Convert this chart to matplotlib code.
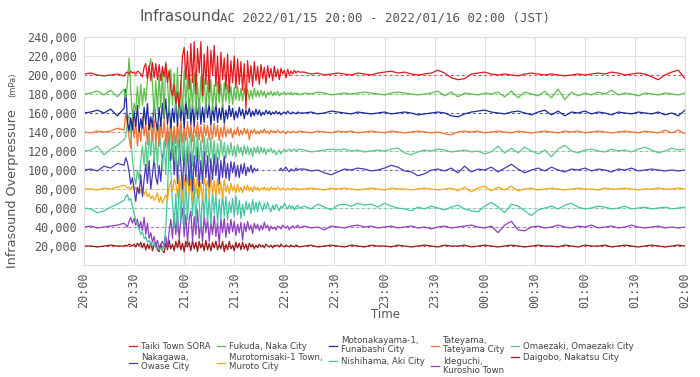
import numpy as np
import matplotlib
matplotlib.use('Agg')
import matplotlib.pyplot as plt

nan = np.nan

# minutes after 20:00 JST (denser sampling during the event)
minutes = np.r_[0:25:4, 25:130, 132:361:4]

time_labels = ['20:00', '20:30', '21:00', '21:30', '22:00', '22:30', '23:00',
               '23:30', '00:00', '00:30', '01:00', '01:30', '02:00']

# deviations from each station's offset, in 1,000 mPa
taiki = [1, 2, 0, -1, 0, 1, -1,
         2, 3, 1, 4, 2, 3, 1, 4, 3, 1,
         -2, 8, 12, -4, 10, -6, 13, -3, 12, -5,
         11, -6, 9, -2, 12, -8, 5, -15, -22, -10,
         -30, -18, -35, -12, 20, 29, -5, 25, -15, 33,
         -8, 35, -20, 28, 2, 35, -22, 22, -10, 30,
         -18, 26, 0, 31, -12, 20, -20, 24, -5, 18,
         -15, 22, -19, 15, -8, 20, -14, 17, -10, 14,
         -16, 12, -36, 15, -8, 10, -12, 14, -6, 9,
         -10, 11, -4, 8, -9, 10, -3, 7, -6, 9,
         -2, 6, -5, 7, 1, 5, -3, 6, 0, 4,
         1, 5, 2, 4, 3,
         3, 1, 2, 0, 1, 2, 1, 0, 2, 1,
         0, 2, 3, 4, 2, 3, 1, 0, 1, 2,
         5, 2, -3, -5, -4, 1, 2, 3, 1, 0,
         1, 0, -1, 1, 2, 1, 0, 1, 0, -1,
         0, 1, 0, 1, 2, 1, 3, 2, 0, 1,
         2, 1, -2, -5, 0, 3, 5, -4]

fukuda = [0, 1, 3, -1, 4, -3, 5,
          -4, 10, 38, 5, -25, -10, -18, 8, -15, 10,
          -12, 6, -8, 15, 28, 37, 10, -22, 14, -18,
          20, -15, 25, -24, 34, 15, -20, 26, -12, 22,
          -20, 28, -25, 14, -18, 24, -10, 20, -26, 16,
          -15, 22, -20, 12, -22, 18, -8, 16, -18, 14,
          -12, 15, -17, 10, -13, 13, -9, 11, -14, 12,
          -8, 10, -10, 8, -11, 7, -6, 8, -7, 6,
          -7, 6, -4, 5, -6, 4, -5, 6, -3, 4,
          -3, 4, -2, 3, -4, 2, -1, 3, -2, 2,
          -1, 3, -2, 1, 0, 2, -1, 1, 0, 2,
          -1, 1, 0, 1, -1,
          1, 0, 2, 1, -1, 0, 1, 0, 1, 2,
          1, 0, -1, 1, 2, 1, 0, -1, 0, 1,
          3, -2, 2, -3, 1, 0, -1, 1, 0, 2,
          -3, 3, -4, 2, 0, -2, 3, -4, 5, -6,
          2, -2, 1, -1, 2, 0, 4, -1, 1, 0,
          -2, 1, 0, -1, 1, 0, -1, 1]

motonakayama = [0, 1, 3, 0, 4, -3, 5,
                25, -8, -19, -5, -18, 2, -14, 8, -20, -6,
                -16, 6, -12, 10, -18, -4, -15, 12, -8, -18,
                6, -14, 10, -6, 15, -12, 8, -16, 5, -10,
                14, -14, 16, -8, 11, -16, 13, -6, 15, -12,
                9, -14, 12, -7, 15, -12, 6, -10, 13, -5,
                10, -13, 7, -8, 11, -10, 5, -7, 9, -11,
                3, -6, 8, -4, 5, -7, 2, -5, 6, -3,
                4, -6, 3, -2, 5, -4, 2, -3, 4, -2,
                3, -3, 1, -2, 3, -1, 2, -2, 1, -1,
                2, -1, 1, -2, 0, 1, -1, 2, 0, -1,
                1, 0, -1, 1, 0,
                0, 1, -1, 0, 2, 1, 0, -1, 1, 0,
                -1, 0, 1, -1, 0, 1, 0, -2, -1, 0,
                1, 0, -3, -4, -1, 1, 2, 3, 1, 0,
                -1, 1, 2, 0, -2, 1, 3, -2, 2, -3,
                1, 0, 2, -1, 1, 0, -2, 1, 0, -1,
                1, 0, -1, 1, -2, 0, -3, 3]

tateyama = [0, -1, 1, 0, 1, 4, 2,
            20, 8, -6, -17, 14, -6, 12, -15, 8, -10,
            16, -4, 10, -13, 15, 5, -9, 13, -11, 8,
            -15, 10, -6, 13, -13, 7, -9, 12, -10, 6,
            -12, 10, -7, 13, -11, 5, -9, 11, -6, 8,
            -10, 7, -5, 11, -8, 6, -11, 8, -4, 7,
            -8, 6, -7, 9, -5, 7, -9, 5, -6, 8,
            -5, 3, -2, 4, -6, 2, -3, 5, -4, 2,
            -3, 4, -2, 3, -8, 2, -1, 3, -2, 1,
            -2, 2, -1, 3, -1, 1, -2, 2, 0, 1,
            -1, 2, 0, -1, 1, 0, -2, 1, 0, -1,
            1, 0, -1, 0, 1,
            0, -1, 1, 0, -1, 1, 0, 1, -1, 0,
            1, 0, -1, 1, 0, -1, 0, 1, 0, -1,
            0, -2, -3, 0, 1, 0, 1, -1, 0, 1,
            0, -1, 1, 0, -1, 0, 1, 0, -1, 1,
            0, 1, -1, 0, 1, 0, -1, 0, 1, 0,
            -1, 1, 0, -1, 2, -1, 2, -2]

omaezaki = [0, 1, 5, -4, 2, 6, 12,
            15, 30, 38, 20, -10, -25, -35, -20, -30, -10,
            5, -15, 10, -20, 20, -5, 25, -12, 15, -18,
            28, 5, -20, 12, -25, 18, -10, 30, -8, 20,
            -20, 22, -16, 28, -10, 18, -24, 14, -12, 24,
            -16, 16, -9, 20, -14, 11, -18, 15, -6, 13,
            -12, 14, -8, 11, -13, 8, -9, 12, -5, 9,
            -8, 6, -4, 9, -5, 5, -6, 7, -2, 4,
            -5, 6, -3, 5, -4, 3, -6, 4, -2, 5,
            -3, 4, -2, 3, -4, 2, -1, 3, -2, 1,
            -4, -2, 1, -3, 0, 2, -1, 1, 2, 0,
            1, 2, 0, 1, 2,
            1, -1, 0, 1, 2, 1, 2, 0, 1, -1,
            0, 1, 0, 2, 3, -2, -4, -1, 1, 0,
            2, 1, -1, 0, 1, -1, 0, -3, -1, 5,
            -2, 3, -2, 4, 0, -3, 1, -6, 2, 6,
            0, -2, 1, 2, 0, -1, 2, 0, 1, -1,
            2, 4, 1, -2, 0, 3, 1, 2]

nakagawa = [0, 1, -1, 4, 2, 7, 5,
            13, 8, -2, -15, -8, -20, -33, -18, -25, -5,
            -28, -10, 6, -14, 10, -20, -5, 12, -8, -15,
            5, -12, 15, 20, 30, 41, 25, 10, 35, -5,
            25, -14, 32, 6, -20, 22, -12, 26, -16, 18,
            -22, 15, -7, 24, -18, 10, -14, 20, -8, 15,
            -18, 12, -10, 17, -6, 13, -15, 10, -8, 15,
            -9, 7, -11, 9, -3, 8, -7, 5, -8, 6,
            -4, 7, -6, 3, -2, 5, -3, 2, -1, 1,
            nan, nan, nan, nan, nan, nan, nan, nan, nan, nan,
            nan, nan, 0, 2, -1, 1, 3, 0, -2, 1,
            0, -1, 2, 0, 1,
            1, -1, 0, -3, -5, -2, 1, 0, 2, 1,
            -1, 0, 2, 5, 3, -1, -2, -6, -4, 0,
            1, -1, 2, -3, 4, -2, 1, 0, 3, -2,
            2, 6, 1, -3, 0, 2, -1, 3, 0, -2,
            1, 0, 2, -1, 1, 0, -2, 1, 0, 2,
            -1, 0, 1, 0, -1, 0, -1, 0]

muroto = [0, 0, -1, 1, 0, 2, 4,
          3, 1, 2, -1, 3, 0, 2, -3, 1, -4,
          0, -6, -2, -8, -5, -10, -7, -12, -9, -4,
          -14, -8, -15, -10, -6, -12, 2, 8, -2, 10,
          6, -8, 14, 3, -12, 12, -2, 14, -8, 10,
          -13, 11, -5, 15, -9, 7, -12, 12, 1, 9,
          -10, 13, -4, 9, -8, 11, -6, 7, -9, 10,
          -3, 4, -5, 6, -2, 3, -4, 5, -3, 2,
          -4, 3, -1, 4, -2, 2, -3, 3, -1, 2,
          -2, 1, 0, 2, -1, 1, -2, 2, 0, 1,
          -1, 2, 0, -1, 1, 0, -1, 1, 0, -1,
          1, 0, 1, -1, 0,
          0, 1, 0, -1, 1, 0, 1, 0, -1, 0,
          1, 0, -1, 1, 0, 0, -1, 0, 1, 0,
          -1, 0, 1, -2, 2, -3, 1, 3, -2, 2,
          -1, 3, -2, 0, 1, -1, 0, 1, 0, -1,
          0, 1, 0, 0, -1, 1, 0, 0, 1, 0,
          -1, 0, 0, 1, 0, 0, 1, 0]

nishihama = [0, -1, -5, -3, 1, 4, 8,
             12, 14, 8, 10, 2, -6, -12, -18, -22, -28,
             -25, -32, -30, -36, -34, -38, -40, -36, -42, -41,
             -44, -42, -45, -38, -20, 15, 70, 40, 5, -20,
             15, -25, 35, -15, 28, -20, 32, -12, 20, 38,
             -8, 26, -18, 20, 6, -22, 16, -10, 24, -15,
             12, -18, 18, -6, 14, -16, 9, -12, 16, -9,
             12, -13, 7, -5, 10, -9, 13, -7, 8, -11,
             4, -8, 7, -2, 5, -6, 9, -3, 6, -4,
             7, 2, -3, 5, -1, 6, 0, -4, 3, -2,
             4, 1, -3, 2, 0, 5, 2, -1, 3, 0,
             2, -2, 1, 3, 0,
             2, -1, 4, 1, -2, 3, 4, 2, 5, 3,
             4, 1, 5, 2, 0, -1, -3, 1, -1, 2,
             0, -2, 1, 3, -1, -3, -4, 2, 6, 1,
             -5, 4, 2, -3, -8, -2, 0, 2, -1, 3,
             5, 1, -1, 0, 2, 1, -1, 0, 2, -1,
             0, 1, -1, 0, 1, -1, 0, 1]

ideguchi = [0, 1, -1, 0, 1, 2, 4,
            2, 0, 6, 10, 4, 9, 2, 8, -2, 6,
            -4, 10, -8, 4, -12, -6, -16, -10, -20, -14,
            -22, -18, -15, -20, -10, -22, -5, 8, -12, 15,
            -8, 15, -13, 7, 20, -10, 13, -17, 8, 17,
            -15, 11, -8, 18, -12, 6, -16, 13, -6, 9,
            -15, 6, -8, 12, -10, 5, -18, 8, -6, 9,
            -11, 4, -7, 8, -5, 6, -9, 3, -6, 5,
            -14, 4, -5, 6, -3, 2, -7, 4, -2, 3,
            -4, 2, -3, 5, -1, 2, -4, 1, -2, 0,
            -3, 1, 0, -2, 2, 0, -1, 1, -3, 0,
            1, -1, 0, 2, -1,
            1, -1, 0, -3, 1, 0, -1, 1, 2, 0,
            1, -1, 0, 1, -1, 0, 1, -1, 0, -2,
            0, 1, -1, 0, 1, 2, 0, -1, 1, -6,
            2, 6, -3, -4, 0, 1, -1, 0, 2, 0,
            -1, 1, 0, 2, -1, 0, 1, -1, 0, 2,
            0, -1, 0, 1, -1, 0, -1, 0]

daigobo = [0, 0, -1, 0, 1, 0, 0,
           1, 0, 2, 1, 0, 2, -1, 3, 0, 4,
           -2, 3, -4, 2, -3, 4, -5, 1, 3, -4,
           -6, 2, -5, -7, 3, -4, 6, -3, 2, -5,
           5, -2, 7, -4, 3, -6, 5, -1, 4, -5,
           6, -3, 4, -6, 5, -2, 3, -5, 6, -4,
           3, -5, 4, -2, 5, -4, 2, -3, 5, -6,
           2, -4, 5, -3, 1, -5, 4, -2, 3, -4,
           4, -3, 2, -5, 3, -1, 2, -3, 1, -2,
           2, -1, 1, -2, 2, 0, -1, 1, -2, 1,
           0, 1, -1, 2, 0, -1, 1, 0, -1, 1,
           0, -1, 1, 0, -1,
           0, 1, -1, 0, 1, 0, -1, 1, 0, -1,
           1, 0, 0, -1, 1, 0, -1, 0, 1, 0,
           -1, 1, 0, 0, 1, -1, 0, 1, 0, -1,
           0, 1, 0, -1, 0, 1, 0, 0, -1, 1,
           0, -1, 1, 0, 0, 1, -1, 0, 1, 0,
           -1, 0, 1, 0, -1, 0, 1, 0]

stations = ['Taiki Town SORA', 'Fukuda, Naka City', 'Motonakayama-1,\nFunabashi City',
            'Tateyama,\nTateyama City', 'Omaezaki, Omaezaki City', 'Nakagawa,\nOwase City',
            'Murotomisaki-1 Town,\nMuroto City', 'Nishihama, Aki City',
            'Ideguchi,\nKuroshio Town', 'Daigobo, Nakatsu City']
offsets = [200000, 180000, 160000, 140000, 120000, 100000, 80000, 60000, 40000, 20000]
series = [taiki, fukuda, motonakayama, tateyama, omaezaki, nakagawa,
          muroto, nishihama, ideguchi, daigobo]
colors = ['#e0191e', '#5cbf4a', '#1c2a99', '#f07234', '#5cc68a', '#4b3ab5',
          '#f2a818', '#45c4a5', '#9040c0', '#9e1a1a']

grey = '#555555'

fig = plt.figure(figsize=(7, 3.77), dpi=100)
ax = fig.add_axes([0.12, 0.297, 0.8586, 0.605])

lines = {}
for name, off, vals, c in reversed(list(zip(stations, offsets, series, colors))):
    assert len(vals) == len(minutes), name
    ax.axhline(off, color=c, lw=0.8, ls=(0, (2, 3)), alpha=0.8, zorder=1)
    ln, = ax.plot(minutes, off + np.array(vals, float) * 1000, color=c, lw=0.9, zorder=2)
    lines[name] = ln

ax.set_xlim(0, 360)
ax.set_ylim(0, 240000)
ax.set_xticks(np.arange(0, 361, 30))
ax.set_xticklabels(time_labels, rotation=90)
yt = np.arange(20000, 240001, 20000)
ax.set_yticks(yt)
ax.set_yticklabels([f'{v:,}' for v in yt])
ax.tick_params(length=0, pad=5, labelsize=8.5, labelcolor=grey)
for lab in ax.get_xticklabels() + ax.get_yticklabels():
    lab.set_family('DejaVu Sans Mono')
ax.grid(color='#e2e2e2', lw=0.8)
ax.set_axisbelow(True)
for s in ax.spines.values():
    s.set_color('#dddddd')

fig.text(0.199, 0.955, 'Infrasound', fontsize=11, color=grey, ha='left', va='center')
fig.text(0.314, 0.953, 'AC 2022/01/15 20:00 - 2022/01/16 02:00 (JST)',
         family='DejaVu Sans Mono', fontsize=9, color=grey, ha='left', va='center')

fig.text(0.018, 0.50, 'Infrasound Overpressure', rotation=90, fontsize=9.2,
         color=grey, ha='center', va='center')
fig.text(0.018, 0.775, '(mPa)', rotation=90, fontsize=6, color=grey,
         ha='center', va='center')
fig.text(0.55, 0.167, 'Time', fontsize=8.5, color=grey, ha='center', va='center')

order = [0, 5, 1, 6, 2, 7, 3, 8, 4, 9]
leg = fig.legend([lines[stations[i]] for i in order], [stations[i] for i in order],
                 ncol=5, loc='upper center', bbox_to_anchor=(0.545, 0.108), frameon=False,
                 handlelength=0.9, handletextpad=0.5, columnspacing=0.75,
                 labelspacing=0.3, labelcolor='#444444', fontsize=6.2,
                 borderaxespad=0, borderpad=0)
for txt in leg.get_texts():
    txt.set_linespacing(1.0)

fig.savefig('out.png', dpi=100)
